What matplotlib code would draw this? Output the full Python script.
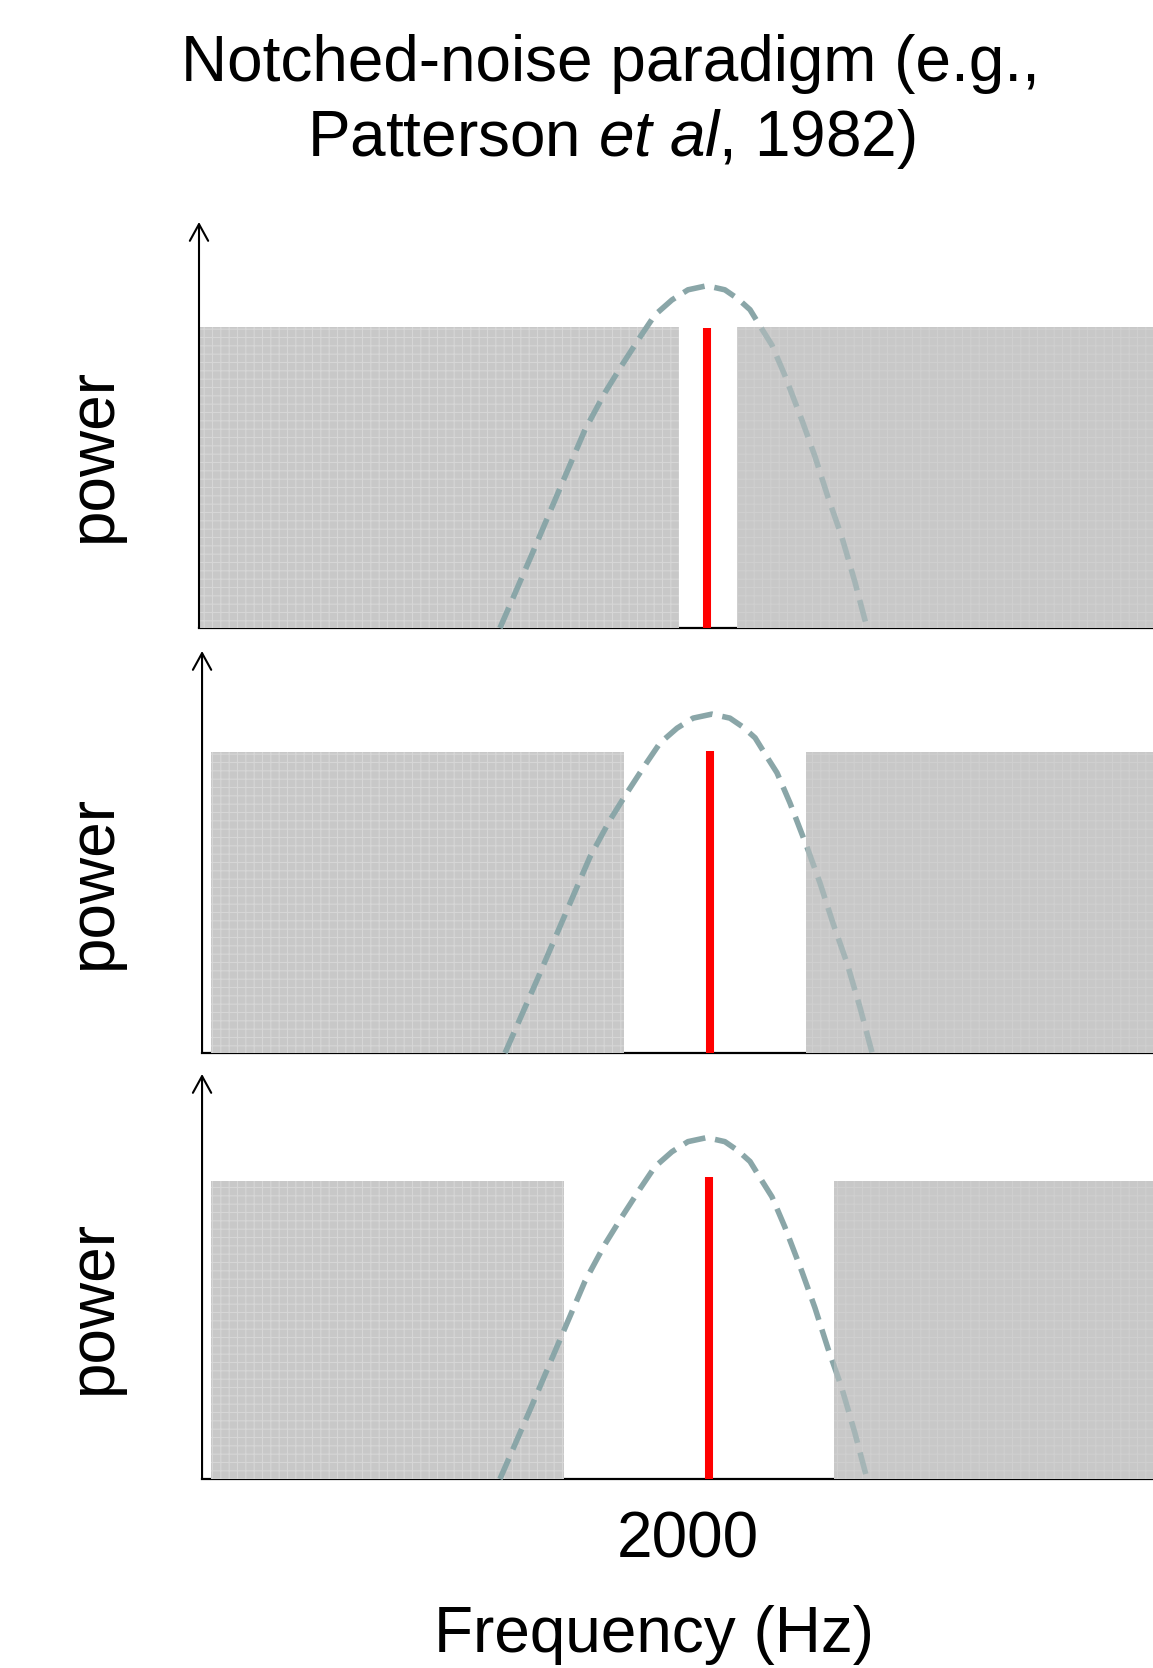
import matplotlib
matplotlib.use("Agg")
import matplotlib.pyplot as plt

plt.rcParams['font.family'] = ['Liberation Sans', 'DejaVu Sans']
plt.rcParams['mathtext.fontset'] = 'custom'
plt.rcParams['mathtext.rm'] = 'Liberation Sans'
plt.rcParams['mathtext.it'] = 'Liberation Sans:italic'
plt.rcParams['hatch.linewidth'] = 0.8

# auditory filter shape (Hz, relative power)
curve_hz = [1203, 1329, 1447, 1537, 1616, 1682, 1753, 1812, 1879, 1942, 2016,
            2087, 2138, 2186, 2233, 2272, 2323, 2390, 2441, 2492, 2547, 2598, 2646]
curve_power = [0.0, 0.182, 0.356, 0.488, 0.580, 0.647, 0.716, 0.771, 0.808, 0.833, 0.843,
               0.833, 0.811, 0.784, 0.736, 0.697, 0.622, 0.512, 0.423, 0.323, 0.224, 0.114, 0.0]

# one entry per panel (narrow, medium, wide notch)
curve_shift = [-20, 0, -20]
arrow_hz = [0, 12, 12]
noise_left = [4, 47, 47]
notch_lo = [1887, 1671, 1435]
notch_hi = [2115, 2386, 2496]
noise_level = [0.741, 0.749, 0.736]
tone_hz = [1997, 2007, 2005]
tone_level = [0.739, 0.751, 0.746]
x_max = 3750

W, H = 1153, 1668
fig = plt.figure(figsize=(W / 100, H / 100), dpi=100)

panel_px = [(222, 628), (651, 1053), (1074, 1479)]  # arrow tip, baseline (pixels from top)
left_px = 199

for i, (top, base) in enumerate(panel_px):
    ax = fig.add_axes([left_px / W, 1 - base / H, (W - left_px) / W, (base - top) / H])
    ax.set_xlim(0, x_max)
    ax.set_ylim(0, 1)
    ax.axis('off')

    # baseline and arrow
    ax.plot([arrow_hz[i], x_max], [0, 0], color='black', lw=1.6, zorder=1, clip_on=False)
    ax.annotate('', xy=(arrow_hz[i], 1.0), xytext=(arrow_hz[i], 0),
                arrowprops=dict(arrowstyle='->,head_length=0.6,head_width=0.33',
                                lw=1.5, color='black', shrinkA=0, shrinkB=0,
                                mutation_scale=20),
                annotation_clip=False)

    # noise bands
    ax.fill_between([noise_left[i], notch_lo[i]], 0, noise_level[i],
                    facecolor='#c8c8c8', edgecolor='#d6d6d6', hatch='++',
                    linewidth=0, zorder=2, clip_on=False)
    ax.fill_between([notch_hi[i], x_max], 0, noise_level[i],
                    facecolor='#c8c8c8', edgecolor='#d6d6d6', hatch='++',
                    linewidth=0, zorder=2, clip_on=False)

    # filter shape
    xs = [x + curve_shift[i] for x in curve_hz]
    ax.plot(xs, curve_power, color='#8aa6a8', lw=4.0, dashes=(4.0, 1.8),
            dash_joinstyle='round', zorder=3, clip_on=False)

    # soften the part of the curve that lies on the upper noise band
    ax.fill_between([notch_hi[i], x_max], 0, noise_level[i],
                    facecolor='#c8c8c8', linewidth=0, alpha=0.45, zorder=4, clip_on=False)

    # tone
    ax.plot([tone_hz[i], tone_hz[i]], [0, tone_level[i]], color='#ff0000',
            lw=5.8, solid_capstyle='butt', zorder=5, clip_on=False)

    fig.text(94 / W, 1 - ((top + base) / 2 + 30) / H, 'power', rotation=90,
             fontsize=46, ha='center', va='center')

fig.text(610 / W, 1 - 81 / H, 'Notched-noise paradigm (e.g.,', fontsize=46,
         ha='center', va='baseline')
fig.text(611 / W, 1 - 156 / H, r'Patterson $\it{et\ al}$, 1982)', fontsize=46,
         ha='center', va='baseline')
fig.text(688 / W, 1 - 1557 / H, '2000', fontsize=46, ha='center', va='baseline')
fig.text(654 / W, 1 - 1652 / H, 'Frequency (Hz)', fontsize=46, ha='center', va='baseline')

fig.savefig('out.png', dpi=100)
